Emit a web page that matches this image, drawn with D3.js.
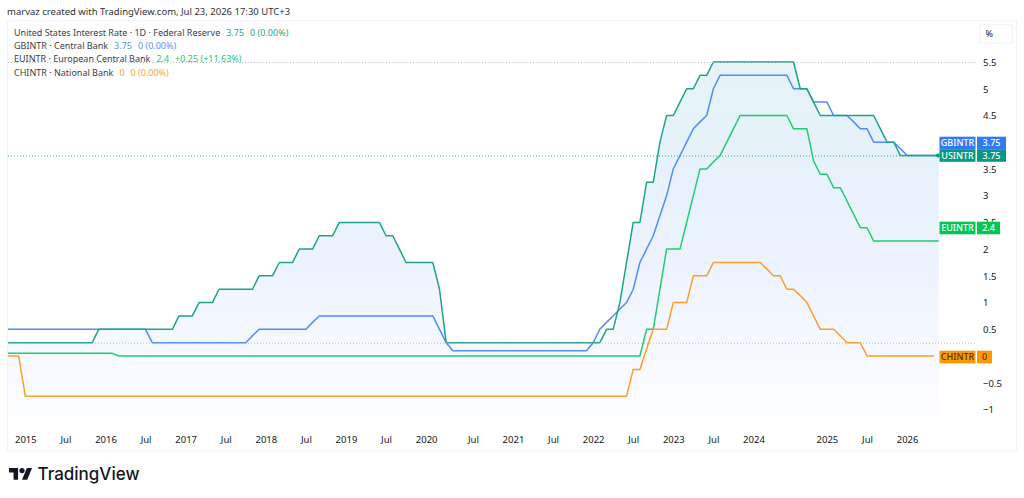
<!DOCTYPE html>
<html>
<head>
<meta charset="utf-8">
<script src="https://cdn.jsdelivr.net/npm/d3@7/dist/d3.min.js"></script>
<style>
html,body{margin:0;padding:0;background:#fff;}
svg{display:block;}
text{font-family:"Noto Sans",sans-serif;}
</style>
</head>
<body>
<svg id="chart" width="1024" height="498"></svg>
<script>
// Monthly policy rates; the first entry is three bars ahead of the January 2015 bar.
const firstBar = -3;
const usRate = [0.25,0.25,0.25,0.25,0.25,0.25,0.25,0.25,0.25,0.25,0.25,0.25,0.25,0.25,
  0.5,0.5,0.5,0.5,0.5,0.5,0.5,0.5,0.5,0.5,0.5,0.5,
  0.75,0.75,0.75,1,1,1,1.25,1.25,1.25,1.25,1.25,1.25,1.5,1.5,1.5,1.75,1.75,1.75,2,2,2,2.25,2.25,2.25,
  2.5,2.5,2.5,2.5,2.5,2.5,2.5,2.25,2.25,2,1.75,1.75,1.75,1.75,1.75,1.25,
  0.25,0.25,0.25,0.25,0.25,0.25,0.25,0.25,0.25,0.25,0.25,0.25,0.25,0.25,0.25,0.25,0.25,0.25,0.25,0.25,0.25,0.25,0.25,0.25,
  0.5,0.5,1,1.75,2.5,2.5,3.25,3.25,4,4.5,4.5,4.75,5,5,5.25,5.25,
  5.5,5.5,5.5,5.5,5.5,5.5,5.5,5.5,5.5,5.5,5.5,5.5,5.5,
  5,5,4.75,4.5,4.5,4.5,4.5,4.5,4.5,4.5,4.5,4.5,4.25,4,4,3.75,3.75,3.75,3.75,3.75,3.75,3.75];
const gbRate = [0.5,0.5,0.5,0.5,0.5,0.5,0.5,0.5,0.5,0.5,0.5,0.5,0.5,0.5,0.5,0.5,0.5,0.5,0.5,0.5,0.5,0.5,
  0.25,0.25,0.25,0.25,0.25,0.25,0.25,0.25,0.25,0.25,0.25,0.25,0.25,0.25,0.25,0.38,
  0.5,0.5,0.5,0.5,0.5,0.5,0.5,0.5,0.63,
  0.75,0.75,0.75,0.75,0.75,0.75,0.75,0.75,0.75,0.75,0.75,0.75,0.75,0.75,0.75,0.75,0.75,0.75,
  0.5,0.25,
  0.1,0.1,0.1,0.1,0.1,0.1,0.1,0.1,0.1,0.1,0.1,0.1,0.1,0.1,0.1,0.1,0.1,0.1,0.1,0.1,0.1,
  0.25,0.5,0.63,0.75,0.88,1,1.25,1.75,2,2.25,2.63,3,3.5,3.75,4,4.25,4.38,4.5,5,
  5.25,5.25,5.25,5.25,5.25,5.25,5.25,5.25,5.25,5.25,5.25,
  5,5,5,4.75,4.75,4.75,4.5,4.5,4.5,4.38,4.25,4.25,4,4,4,4,3.88,3.75,3.75,3.75,3.75,3.75,3.75];
const euRate = [0.05,0.05,0.05,0.05,0.05,0.05,0.05,0.05,0.05,0.05,0.05,0.05,0.05,0.05,0.05,0.05,0.05,
  0,0,0,0,0,0,0,0,0,0,0,0,0,0,0,0,0,0,0,0,0,0,0,0,0,0,0,0,0,0,0,0,0,0,0,0,0,0,0,0,0,
  0,0,0,0,0,0,0,0,0,0,0,0,0,0,0,0,0,0,0,0,0,0,0,0,0,0,0,0,0,0,0,0,0,0,0,0,0,0,
  0.5,0.5,1.25,2,2,2,2.5,3,3.5,3.5,3.63,3.75,4,4.25,
  4.5,4.5,4.5,4.5,4.5,4.5,4.5,4.5,4.25,4.25,4.25,3.65,3.4,3.4,3.15,3.15,2.9,2.65,2.4,2.4,
  2.15,2.15,2.15,2.15,2.15,2.15,2.15,2.15,2.15,2.15,2.15,2.15,2.4];
const chRate = [0,0,0,
  -0.75,-0.75,-0.75,-0.75,-0.75,-0.75,-0.75,-0.75,-0.75,-0.75,-0.75,-0.75,-0.75,-0.75,-0.75,-0.75,-0.75,-0.75,-0.75,-0.75,-0.75,-0.75,
  -0.75,-0.75,-0.75,-0.75,-0.75,-0.75,-0.75,-0.75,-0.75,-0.75,-0.75,-0.75,-0.75,-0.75,-0.75,-0.75,-0.75,-0.75,-0.75,-0.75,-0.75,-0.75,
  -0.75,-0.75,-0.75,-0.75,-0.75,-0.75,-0.75,-0.75,-0.75,-0.75,-0.75,-0.75,-0.75,-0.75,-0.75,-0.75,-0.75,-0.75,-0.75,-0.75,-0.75,-0.75,
  -0.75,-0.75,-0.75,-0.75,-0.75,-0.75,-0.75,-0.75,-0.75,-0.75,-0.75,-0.75,-0.75,-0.75,-0.75,-0.75,-0.75,-0.75,-0.75,-0.75,-0.75,-0.75,
  -0.75,-0.75,-0.75,
  -0.25,-0.25,0.13,0.5,0.5,0.5,1,1,1,1.5,1.5,1.5,
  1.75,1.75,1.75,1.75,1.75,1.75,1.75,1.75,1.63,1.5,1.5,1.25,1.25,1.13,1,0.75,0.5,0.5,0.5,0.38,0.25,0.25,0.25,
  0,0,0,0,0,0,0,0,0,0,0];

const timeLabels = ["2015","Jul","2016","Jul","2017","Jul","2018","Jul","2019","Jul","2020","Jul","2021","Jul","2022","Jul","2023","Jul","2024","2025","Jul","2026"];
const timeBars = [0,6,12,18,24,30,36,42,48,54,60,67,73,79,85,91,97,103,109,120,126,132];
const rateTicks = [5.5,5,4.5,4,3.5,3,2.5,2,1.5,1,0.5,-0.5,-1];
const extremeLevels = [5.5,0.25];

const legendRows = [
  {name:"United States Interest Rate · 1D · Federal Reserve", value:"3.75", change:"0 (0.00%)", color:"#2aa593"},
  {name:"GBINTR · Central Bank", value:"3.75", change:"0 (0.00%)", color:"#5b93f8"},
  {name:"EUINTR · European Central Bank", value:"2.4", change:"+0.25 (+11.63%)", color:"#1fc966"},
  {name:"CHINTR · National Bank", value:"0", change:"0 (0.00%)", color:"#fba62f"}
];
const series = [
  {id:"GBINTR", data:gbRate, color:"#4f8ef8", tag:"#3179f5", text:"#fff", last:3.75, label:"3.75", tagY:143, valueW:29},
  {id:"EUINTR", data:euRate, color:"#22cc70", tag:"#00c853", text:"#fff", last:2.4, label:"2.4", tagY:228, valueW:23},
  {id:"CHINTR", data:chRate, color:"#fa9f2a", tag:"#ff9800", text:"#4a3208", last:0, label:"0", tagY:357, valueW:15},
  {id:"USINTR", data:usRate, color:"#1fa38c", tag:"#089981", text:"#fff", last:3.75, label:"3.75", tagY:155.5, valueW:29}
];

const svg = d3.select("#chart");
const paneLeft = 8, paneRight = 938.8, paneTop = 21, paneBottom = 431;

const x = d3.scaleLinear().domain([firstBar,137]).range([5.3,940.5]);
const y = d3.scaleLinear().domain([5.5,-1]).range([62,409.5]);

// Card outline around the chart
svg.append("rect").attr("x",7.5).attr("y",20.5).attr("width",1009).attr("height",430.5)
  .attr("fill","#fff").attr("stroke","#f0f3fa");

const defs = svg.append("defs");
defs.append("clipPath").attr("id","pane").append("rect")
  .attr("x",paneLeft).attr("y",paneTop).attr("width",paneRight-paneLeft).attr("height",paneBottom-paneTop);
const grad = defs.append("linearGradient").attr("id","usFill")
  .attr("gradientUnits","userSpaceOnUse").attr("x1",0).attr("x2",0).attr("y1",62).attr("y2",paneBottom);
[[0,"#e5f4f6"],[0.25,"#e6f1fa"],[0.55,"#edf3fe"],[0.85,"#f8faff"],[1,"#ffffff"]]
  .forEach(([o,c])=>grad.append("stop").attr("offset",o).attr("stop-color",c));

const barOf = i => firstBar + i;
const plot = svg.append("g").attr("clip-path","url(#pane)");

plot.append("path").datum(usRate)
  .attr("fill","url(#usFill)")
  .attr("d",d3.area().x((d,i)=>x(barOf(i))).y0(paneBottom).y1(d=>y(d)));

// Dotted high / low / last levels of the main series
svg.selectAll("line.level").data(extremeLevels).join("line").attr("class","level")
  .attr("x1",paneLeft).attr("x2",975).attr("y1",d=>y(d)+0.5).attr("y2",d=>y(d)+0.5)
  .attr("stroke","#b8bcc6").attr("stroke-width",1).attr("stroke-dasharray","1 2");
svg.append("line").attr("x1",paneLeft).attr("x2",paneRight)
  .attr("y1",y(3.75)+0.5).attr("y2",y(3.75)+0.5)
  .attr("stroke","#3aa897").attr("stroke-dasharray","1 2");

const line = d3.line().x((d,i)=>x(barOf(i))).y(d=>y(d));
plot.selectAll("path.rate").data(series).join("path").attr("class","rate")
  .attr("fill","none").attr("stroke",d=>d.color).attr("stroke-width",1.5)
  .attr("stroke-linejoin","round").attr("d",d=>line(d.data));

// Axes
const xAxis = svg.append("g").attr("transform",`translate(0,${paneBottom+9})`)
  .call(d3.axisBottom(x).tickValues(timeBars).tickSize(0).tickPadding(0)
    .tickFormat(b=>timeLabels[timeBars.indexOf(b)]));
xAxis.select(".domain").remove();
xAxis.selectAll("text").attr("dy","0.35em").attr("y",0).attr("fill","#131722").attr("font-size",9.5)
  .style("font-family",'"Noto Sans",sans-serif');

const yAxis = svg.append("g").attr("transform","translate(983,0)")
  .call(d3.axisRight(y).tickValues(rateTicks).tickSize(0).tickPadding(0)
    .tickFormat(v=>String(v).replace("-","−")));
yAxis.select(".domain").remove();
yAxis.selectAll("text").attr("x",0).attr("dy","0.35em").attr("fill","#131722").attr("font-size",9.5)
  .style("font-family",'"Noto Sans",sans-serif');

// Scale mode button
svg.append("rect").attr("x",979.5).attr("y",24.5).attr("width",33).attr("height",19).attr("rx",2)
  .attr("fill","#fff").attr("stroke","#f0f3fa");
svg.append("text").attr("x",985.5).attr("y",37).attr("font-size",9).attr("fill","#131722").text("%");

// Last-value tags on the price scale
const tags = svg.selectAll("g.tag").data(series).join("g").attr("class","tag")
  .attr("transform",d=>`translate(0,${d.tagY})`);
tags.append("rect").attr("x",939.5).attr("y",-6.3).attr("width",36).attr("height",12.6).attr("fill",d=>d.tag);
tags.append("rect").attr("x",977).attr("y",-6.3).attr("width",d=>d.valueW).attr("height",12.6).attr("fill",d=>d.tag);
tags.append("text").attr("x",957.5).attr("dy","0.35em").attr("text-anchor","middle")
  .attr("font-size",9).attr("font-weight",500).attr("fill",d=>d.text).text(d=>d.id);
tags.append("text").attr("x",d=>977+d.valueW/2).attr("dy","0.35em").attr("text-anchor","middle")
  .attr("font-size",9).attr("font-weight",500).attr("fill",d=>d.text).text(d=>d.label);
svg.append("circle").attr("cx",938).attr("cy",y(3.75)).attr("r",2).attr("fill","#089981");

// Legend
const legend = svg.selectAll("text.legend").data(legendRows).join("text").attr("class","legend")
  .attr("x",14).attr("y",(d,i)=>35.5+i*13.4).attr("font-size",9).attr("fill","#3a3e4a");
legend.append("tspan").text(d=>d.name);
legend.append("tspan").attr("dx",6).attr("fill",d=>d.color).text(d=>d.value);
legend.append("tspan").attr("dx",6).attr("fill",d=>d.color).text(d=>d.change);

// Author line and wordmark
svg.append("text").attr("x",7).attr("y",15).attr("font-size",9.5).attr("fill","#2e323c")
  .text("marvaz created with TradingView.com, Jul 23, 2026 17:30 UTC+3");
const mark = svg.append("g").attr("transform","translate(9,465.4) scale(0.65)").attr("fill","#131722");
mark.append("path").attr("d","M14 22H7V11H0V4h14v18zM28 22h-8l7.5-18h8L28 22z");
mark.append("circle").attr("cx",20).attr("cy",8).attr("r",4);
svg.append("text").attr("x",37.5).attr("y",480).attr("font-size",17).attr("font-weight",500)
  .style("font-family","Inter,sans-serif").attr("fill","#131722").text("TradingView");
</script>
</body>
</html>
